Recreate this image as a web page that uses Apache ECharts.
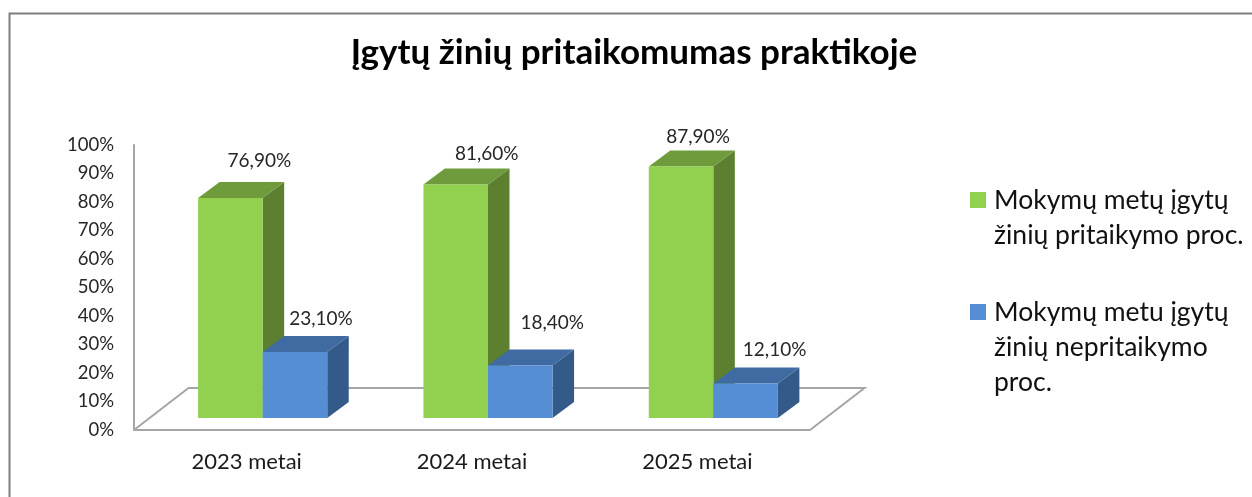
<!DOCTYPE html>
<html><head><meta charset="utf-8">
<style>html,body{margin:0;padding:0;background:#fff}#c{width:1252px;height:497px}</style>
<script src="https://cdn.jsdelivr.net/npm/echarts@6/dist/echarts.min.js"></script>
</head><body><div id="c"></div>
<script>
const titleText = 'Įgytų žinių pritaikomumas praktikoje';
const categories = ['2023 metai', '2024 metai', '2025 metai'];
const seriesAName = 'Mokymų metų įgytų\nžinių pritaikymo proc.';
const seriesBName = 'Mokymų metu įgytų\nžinių nepritaikymo\nproc.';
const seriesA = [76.9, 81.6, 87.9];
const seriesB = [23.1, 18.4, 12.1];
const yTicks = [0,10,20,30,40,50,60,70,80,90,100];

const FONT = 'Lato, "Open Sans", sans-serif';
const DX = 21.5, DY = 16, BAR = 0.2865;
const labelNudgeA = [[29,-12],[31,-5],[17,-4]];
const labelNudgeB = [[26,-8],[32,-17],[29,-8]];

function barRenderer(side, front, top, right, nudges) {
  return function (params, api) {
    const i = api.value(0), v = api.value(1);
    const c0 = api.coord([i, 0]), c1 = api.coord([i, v]);
    const w = api.size([1, 0])[0] * BAR;
    const x0 = side < 0 ? c0[0] - w : c0[0], x1 = x0 + w;
    const yb = c0[1], yt = c1[1];
    const poly = (pts, fill) => ({ type:'polygon', shape:{points:pts}, style:{fill} });
    const n = nudges[i];
    return { type:'group', children:[
      poly([[x1,yb],[x1+DX,yb-DY],[x1+DX,yt-DY],[x1,yt]], right),
      poly([[x0,yt],[x0+DX,yt-DY],[x1+DX,yt-DY],[x1,yt]], top),
      { type:'rect', shape:{x:x0,y:yt,width:w,height:yb-yt}, style:{fill:front} },
      { type:'text', x:(x0+x1)/2+n[0], y:yt-DY+n[1], style:{
          text:v.toFixed(2).replace('.',',')+'%', fill:'#262626', font:'19px '+FONT,
          align:'center', verticalAlign:'bottom' } }
    ]};
  };
}
function floorRenderer(params, api) {
  const r = params.coordSys;
  const x0 = r.x, x1 = r.x + r.width, y = r.y + r.height, bx = 54.5, by = 42;
  return { type:'polyline', shape:{points:[[x0,y],[x0+bx,y-by],[x1+bx,y-by],[x1,y]]},
    style:{ stroke:'#a6a6a6', lineWidth:2, fill:null } };
}
// blank leading lines keep the first text line level with the legend swatch
const firstLineOnSwatch = n => {
  const lines = n.split('\n');
  return lines.map(() => '{b| }').slice(1).concat(lines.map(t => '{t|' + t + '}')).join('\n');
};

const legendCommon = { orient:'vertical', icon:'rect', itemWidth:16, itemHeight:16, itemGap:0, padding:0,
  left:970, formatter:firstLineOnSwatch };
const legendText = { fontFamily:FONT, fontSize:26.5, color:'#111', lineHeight:35,
  rich:{ t:{ fontFamily:FONT, fontSize:26.5, color:'#111', lineHeight:35, padding:[0,0,0,3] },
         b:{ fontFamily:FONT, fontSize:26.5, lineHeight:35 } } };

const chart = echarts.init(document.getElementById('c'), null, {renderer:'canvas'});
chart.setOption({
  animation:false,
  backgroundColor:'#fff',
  graphic:[{ type:'rect', left:7, top:11, shape:{width:1400,height:700},
    style:{ fill:null, stroke:'#7f7f7f', lineWidth:2 }, z:-1 }],
  title:{ text:titleText, left:629, top:30, textAlign:'center',
    textStyle:{ fontFamily:FONT, fontWeight:'bold', fontSize:35, color:'#000' } },
  legend:[
    Object.assign({ data:[seriesAName], top:147.5, textStyle:legendText }, legendCommon),
    Object.assign({ data:[seriesBName], top:224.5, textStyle:legendText }, legendCommon)
  ],
  grid:[
    { left:134, right:442, top:145, bottom:67 },
    { left:150, right:426, top:132, bottom:79 }
  ],
  xAxis:[
    { gridIndex:0, type:'category', data:categories, axisTick:{show:false},
      axisLine:{lineStyle:{color:'#a6a6a6',width:2}},
      axisLabel:{ fontFamily:FONT, fontSize:22, color:'#1a1a1a', margin:21 } },
    { gridIndex:1, type:'category', data:categories, show:false }
  ],
  yAxis:[
    { gridIndex:0, type:'value', min:yTicks[0], max:yTicks[yTicks.length-1], interval:10,
      axisLine:{show:true,lineStyle:{color:'#a6a6a6',width:2}}, axisTick:{show:false}, splitLine:{show:false},
      axisLabel:{ fontFamily:FONT, fontSize:18.5, color:'#262626', margin:20, padding:[4,0,0,0], formatter:'{value}%' } },
    { gridIndex:1, type:'value', min:0, max:100, show:false }
  ],
  series:[
    { type:'custom', name:'floor', xAxisIndex:0, yAxisIndex:0, z:1, silent:true, renderItem:floorRenderer, data:[[0,0]], itemStyle:{color:'#a6a6a6'} },
    { type:'custom', name:seriesAName, xAxisIndex:1, yAxisIndex:1, z:2, clip:false,
      itemStyle:{color:'#92D050'},
      renderItem:barRenderer(-1,'#92D050','#6F9B3D','#5C802F',labelNudgeA),
      data:seriesA.map((v,i)=>[i,v]) },
    { type:'custom', name:seriesBName, xAxisIndex:1, yAxisIndex:1, z:3, clip:false,
      itemStyle:{color:'#558ED5'},
      renderItem:barRenderer(1,'#558ED5','#3F6BA2','#335A89',labelNudgeB),
      data:seriesB.map((v,i)=>[i,v]) }
  ]
});
</script></body></html>
